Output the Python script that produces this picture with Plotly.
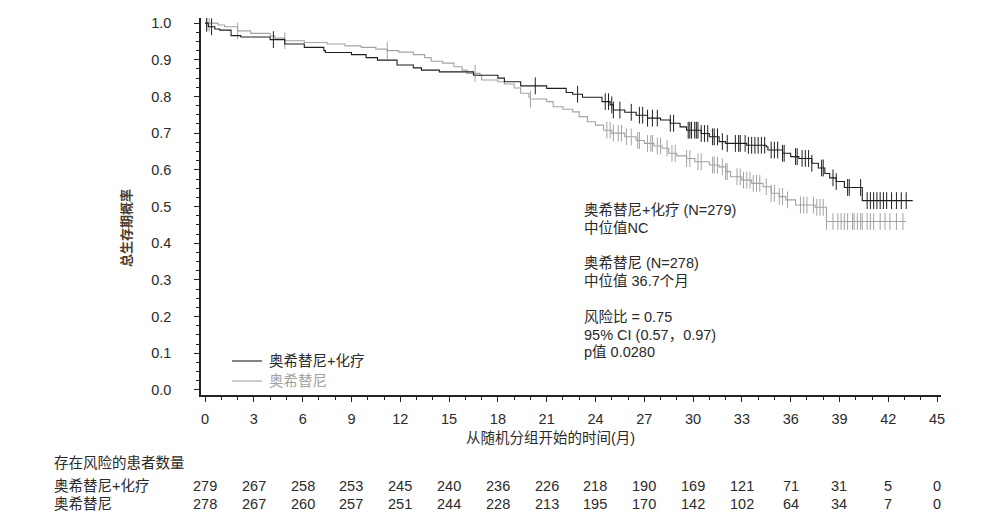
import bisect
import plotly.graph_objects as go

# ---------------- data ----------------
combo_name = "奥希替尼+化疗"
mono_name = "奥希替尼"

combo_t = [0, 0.2, 0.6, 0.9, 1.6, 2.2, 4.0, 4.9, 6.1, 7.3, 7.4, 9.0, 9.9, 10.6, 11.8, 12.8, 13.3,
           14.4, 16.5, 18.0, 18.4, 19.4, 21.0, 22.2, 22.6, 23.2, 24.4, 24.9, 25.1, 25.8, 26.5,
           27.2, 28.0, 28.6, 29.2, 29.6, 30.5, 31.0, 31.6, 32.0, 33.3, 34.5, 34.6, 35.5, 36.0,
           36.5, 37.3, 37.7, 38.1, 38.4, 38.8, 39.3, 40.4, 43.5]
combo_s = [1.0, 0.99, 0.984, 0.981, 0.966, 0.962, 0.955, 0.943, 0.934, 0.925, 0.92, 0.914, 0.906,
           0.899, 0.886, 0.878, 0.872, 0.867, 0.858, 0.85, 0.84, 0.829, 0.822, 0.811, 0.806, 0.798,
           0.786, 0.777, 0.763, 0.757, 0.749, 0.741, 0.736, 0.727, 0.717, 0.708, 0.699, 0.69, 0.677,
           0.672, 0.667, 0.663, 0.654, 0.645, 0.636, 0.631, 0.618, 0.605, 0.59, 0.578, 0.568, 0.552,
           0.516, 0.516]
combo_cens = [0.1, 0.4, 4.2, 20.3, 22.9, 24.6, 24.8, 25.0, 25.1, 25.5, 26.2, 26.7, 26.9, 27.2, 27.5,
              27.8, 28.6, 28.8, 29.7, 29.8, 29.9, 30.1, 30.2, 30.3, 30.5, 30.7, 30.9, 31.2, 31.3,
              31.5, 31.8, 32.1, 32.6, 32.8, 32.9, 33.2, 33.4, 33.6, 33.8, 34.0, 34.2, 34.4, 34.8,
              35.0, 35.2, 35.5, 35.6, 36.3, 36.4, 36.7, 36.9, 37.1, 37.3, 37.9, 38.0, 38.6, 38.8,
              39.5, 39.6, 40.3, 40.7, 40.9, 41.1, 41.3, 41.5, 41.7, 41.9, 42.2, 42.5, 42.8, 43.1]

mono_t = [0, 0.8, 1.2, 2.0, 2.8, 4.0, 4.3, 4.9, 6.1, 7.5, 8.6, 9.6, 10.5, 11.2, 11.9, 12.8, 13.5,
          13.9, 14.6, 15.3, 15.8, 16.1, 16.9, 17.0, 18.0, 18.4, 19.0, 19.4, 19.9, 20.0, 21.0, 21.4,
          22.0, 22.6, 23.0, 23.5, 24.0, 24.5, 25.0, 25.8, 26.5, 27.0, 27.6, 28.1, 28.5, 29.0, 29.6,
          30.1, 31.0, 31.6, 32.0, 32.3, 33.0, 33.6, 34.3, 34.8, 35.3, 35.7, 36.3, 37.5, 38.2, 43.1]
mono_s = [1.0, 0.995, 0.99, 0.979, 0.972, 0.965, 0.959, 0.952, 0.947, 0.943, 0.938, 0.934, 0.929,
          0.925, 0.921, 0.914, 0.906, 0.896, 0.891, 0.881, 0.872, 0.863, 0.858, 0.845, 0.84, 0.834,
          0.823, 0.809, 0.799, 0.793, 0.786, 0.772, 0.765, 0.758, 0.745, 0.731, 0.722, 0.708, 0.70,
          0.69, 0.68, 0.672, 0.665, 0.659, 0.645, 0.638, 0.631, 0.622, 0.613, 0.608, 0.595, 0.581,
          0.572, 0.563, 0.554, 0.536, 0.527, 0.518, 0.504, 0.498, 0.459, 0.459]
mono_cens = [0.1, 0.25, 2.0, 4.9, 11.2, 16.6, 20.0, 24.7, 24.9, 25.1, 25.4, 25.6, 25.9, 26.2, 26.6,
             26.7, 27.2, 27.4, 27.5, 27.8, 28.0, 28.4, 28.7, 28.9, 29.6, 29.8, 30.3, 30.5, 31.2,
             31.3, 31.5, 31.8, 32.0, 32.1, 32.7, 32.9, 33.1, 33.3, 33.5, 33.7, 33.9, 34.1, 34.5,
             34.8, 35.0, 35.3, 35.5, 35.8, 36.6, 36.8, 37.0, 37.4, 37.6, 37.8, 38.0, 38.2, 38.6,
             38.9, 39.1, 39.3, 39.5, 39.8, 39.9, 40.1, 40.3, 40.4, 40.7, 40.9, 41.1, 41.5, 41.8,
             42.1, 42.5, 42.9]

risk_times = [0, 3, 6, 9, 12, 15, 18, 21, 24, 27, 30, 33, 36, 39, 42, 45]
risk_combo = [279, 267, 258, 253, 245, 240, 236, 226, 218, 190, 169, 121, 71, 31, 5, 0]
risk_mono = [278, 267, 260, 257, 251, 244, 228, 213, 195, 170, 142, 102, 64, 34, 7, 0]

stats_lines = ["奥希替尼+化疗 (N=279)", "中位值NC", "", "奥希替尼 (N=278)", "中位值 36.7个月", "",
               "风险比 = 0.75", "95% CI (0.57，0.97)", "p值 0.0280"]

x_title = "从随机分组开始的时间(月)"
y_title = "总生存期概率"
risk_title = "存在风险的患者数量"

# ---------------- styles ----------------
BLACK = "#1e1e1e"
GRAY = "#a3a3a3"
FONT = "Liberation Sans, Arial, Noto Sans CJK SC, sans-serif"
TXT = "#2a2a2a"
FS = 14.5


def step_at(ts, ss, t):
    i = bisect.bisect_right(ts, t) - 1
    return ss[max(i, 0)]


fig = go.Figure()
for ts, ss, cens, col, nm in [(mono_t, mono_s, mono_cens, GRAY, mono_name),
                              (combo_t, combo_s, combo_cens, BLACK, combo_name)]:
    fig.add_trace(go.Scatter(x=ts, y=ss, mode="lines", line=dict(color=col, width=1.1, shape="hv"),
                             name=nm, showlegend=False, hoverinfo="skip"))
    fig.add_trace(go.Scatter(x=cens, y=[step_at(ts, ss, c) for c in cens], mode="markers",
                             marker=dict(symbol="line-ns-open", size=12, color=col,
                                         line=dict(color=col, width=1)),
                             showlegend=False, hoverinfo="skip"))

W, H = 997, 516
L, R, T, B = 201, 56, 18, 121

fig.update_layout(
    width=W, height=H,
    margin=dict(l=L, r=R, t=T, b=B),
    paper_bgcolor="white", plot_bgcolor="white",
    font=dict(family=FONT, size=FS, color=TXT),
    showlegend=False,
)
fig.update_xaxes(
    range=[-0.25, 45.24], tickmode="array", tickvals=risk_times,
    ticks="outside", ticklen=5, tickwidth=1, tickcolor="#222",
    showline=True, linecolor="#222", linewidth=1.5, showgrid=False, zeroline=False,
    minor=dict(dtick=1, tick0=0, ticks="outside", ticklen=3, tickcolor="#222", tickwidth=1, showgrid=False),
    tickfont=dict(size=FS, color=TXT), ticklabelstandoff=5,
)
fig.update_yaxes(
    range=[-0.014, 1.014], tickmode="array", tickvals=[i / 10 for i in range(11)],
    ticktext=[f"{i / 10:.1f}" for i in range(11)],
    ticks="outside", ticklen=5, tickwidth=1, tickcolor="#222",
    showline=True, linecolor="#222", linewidth=1.5, showgrid=False, zeroline=False,
    minor=dict(dtick=0.025, tick0=0, ticks="outside", ticklen=3, tickcolor="#222", tickwidth=1, showgrid=False),
    tickfont=dict(size=FS, color=TXT), ticklabelstandoff=20,
)

pw = W - L - R
ph = H - T - B


def px(xp):
    return (xp - L) / pw


def py(yp):
    return (H - B - yp) / ph


def note(xp, yp, text, xanchor="left", color=TXT, size=FS, **kw):
    fig.add_annotation(xref="paper", yref="paper", x=px(xp), y=py(yp), xanchor=xanchor, yanchor="middle",
                       text=text, showarrow=False, font=dict(size=size, color=color), **kw)


# axis titles
note(550, 438, x_title, xanchor="center")
note(126, 228, "<b>" + y_title + "</b>", xanchor="center", color="#4a3a2c", size=13, textangle=-90)

# stats text block (one line per row)
for i, line in enumerate(stats_lines):
    if line:
        note(582, 210 + i * 17.8, line)

# legend
for yy, col, nm in [(361, BLACK, combo_name), (381, GRAY, mono_name)]:
    fig.add_shape(type="line", xref="paper", yref="paper", x0=px(232), x1=px(262), y0=py(yy), y1=py(yy),
                  line=dict(color=col, width=1.1))
    note(267, yy, nm, color=(GRAY if col == GRAY else TXT))

# risk table
note(52, 463, risk_title)
for yy, nm, vals in [(486, combo_name, risk_combo), (504, mono_name, risk_mono)]:
    note(52, yy, nm)
    for t, v in zip(risk_times, vals):
        fig.add_annotation(xref="x", yref="paper", x=t, y=py(yy), xanchor="center", yanchor="middle",
                           text=str(v), showarrow=False, font=dict(size=FS, color=TXT))

fig.write_html("out.html")
